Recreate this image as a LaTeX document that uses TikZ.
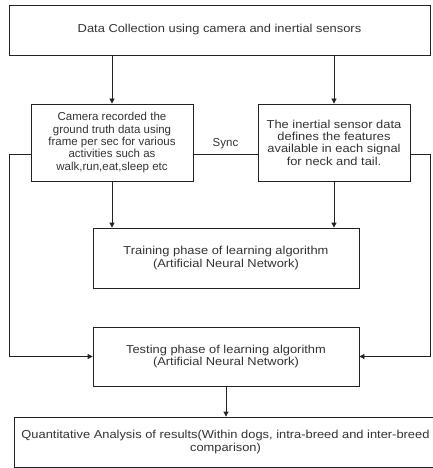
\documentclass[tikz,border=0pt]{standalone}
\usepackage{fontspec}
\setmainfont{Liberation Sans}
\newfontfamily\widesans[FakeStretch=1.12]{Liberation Sans}
\usetikzlibrary{arrows.meta}
\definecolor{ink}{HTML}{222222}
\definecolor{txt}{HTML}{333333}

\begin{document}
\begin{tikzpicture}[x=1pt,y=-1pt,
	box/.style={draw=ink, line width=0.8pt, align=center, text=txt, inner sep=2pt,
		font=\widesans\fontsize{11.5}{12.3}\selectfont},
	arr/.style={draw=ink, line width=0.8pt, -{Triangle[length=5pt,width=5pt]}}]
	\useasboundingbox (0,0) rectangle (432,468);

	% Bloques
	\node [box, minimum width=421pt, minimum height=50pt] (collect) at (219.5,30)
		{Data Collection using camera and inertial sensors};
	\node [box, font=\fontsize{11.5}{12.3}\selectfont, minimum width=162pt, minimum height=77pt] (camera) at (112,142.5)
		{Camera recorded the\\ground truth data using\\frame per sec for various\\activities such as\\walk,run,eat,sleep etc};
	\node [box, minimum width=152pt, minimum height=77pt] (inertial) at (334,142.5)
		{The inertial sensor data\\defines the features\\available in each signal\\for neck and tail.};
	\node [box, minimum width=266pt, minimum height=60pt] (train) at (226,258)
		{Training phase of learning algorithm\\(Artificial Neural Network)};
	\node [box, minimum width=266pt, minimum height=59pt] (test) at (226,356.5)
		{Testing phase of learning algorithm\\(Artificial Neural Network)};
	\node [box, minimum width=423pt, minimum height=50pt] (result) at (225.5,442)
		{Quantitative Analysis of results(Within dogs, intra-breed and inter-breed\\comparison)};

	% Flechas
	\draw [arr] (camera |- collect.south) -- (camera.north);
	\draw [arr] (inertial |- collect.south) -- (inertial.north);
	\draw [arr] (camera.south) -- (camera.south |- train.north);
	\draw [arr] (inertial.south) -- (inertial.south |- train.north);
	\draw [arr] (test.south) -- (test.south |- result.north);

	% Sync y lazos hacia la prueba
	\coordinate (sync) at (0,154);
	\draw [draw=ink, line width=0.8pt] (camera.east |- sync) -- node [above=1pt, text=txt, font=\fontsize{11.5}{12}\selectfont] {Sync} (inertial.west |- sync);
	\draw [arr] (camera.west |- sync) -- (9,154) |- (test.west);
	\draw [arr] (inertial.east |- sync) -- (430,154) |- (test.east);
\end{tikzpicture}
\end{document}
